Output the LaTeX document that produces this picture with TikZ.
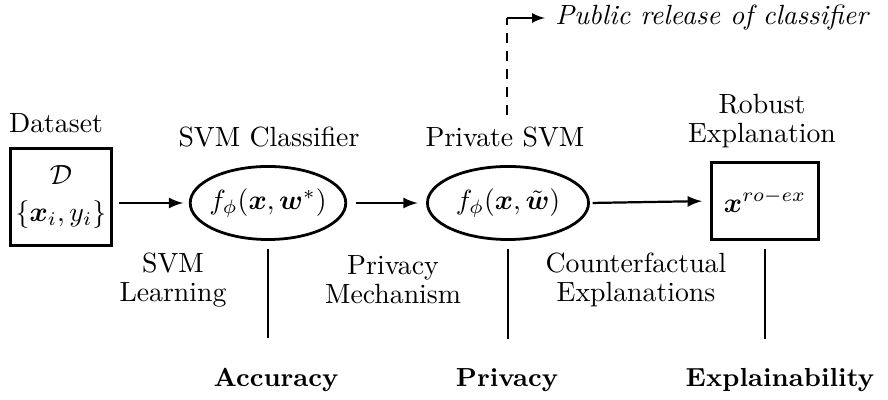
\documentclass[tikz,border=0pt]{standalone}
\usepackage{amsmath}
\usepackage{amssymb}
\usepackage{tikz}
\usetikzlibrary{positioning,arrows,calc,shapes.geometric}
\tikzset{every picture/.style={>=latex,thick}}
\tikzset{databox/.style={draw,line width=1.1pt,inner sep=0pt}}
\tikzset{model/.style={draw,ellipse,line width=1pt,inner xsep=-3pt,inner ysep=0pt,minimum width=56pt,minimum height=26.3pt}}
\tikzset{lbl/.style={align=center,font=\fontsize{10}{10.4}\selectfont}}
\tikzset{goal/.style={font=\fontsize{9.4}{11}\selectfont\bfseries}}
\tikzset{link/.style={semithick}}

\begin{document}
\begin{tikzpicture}[x=0.36pt,y=-0.36pt]
      \useasboundingbox (0,0) rectangle (888,400);
      % pipeline
      \node [databox,minimum width=36.4pt,minimum height=35pt,align=center] (data) at (61,197)
        {$\mathcal{D}$\\[1pt]$\{\boldsymbol{x}_i,y_i\}$};
      \node [model] (svm) at (268,203) {$f_\phi(\boldsymbol{x},\boldsymbol{w}^*)$};
      \node [model,minimum width=58pt] (priv) at (508,203) {$f_\phi(\boldsymbol{x},\tilde{\boldsymbol{w}})$};
      \node [databox,minimum width=38.2pt,minimum height=27.4pt] (rob) at (765,201) {$\boldsymbol{x}^{ro-ex}$};
      % titles
      \node [lbl] (datat) at (56,123) {Dataset};
      \node [lbl] (svmt) at (269,137) {SVM Classifier};
      \node [lbl] (privt) at (505,137) {Private SVM};
      \node [lbl] (robt) at (762,121) {Robust\\Explanation};
      % steps
      \node [lbl] (learn) at (173,280) {SVM\\Learning};
      \node [lbl] (mech) at (393,280) {Privacy\\Mechanism};
      \node [lbl] (cfe) at (636,280) {Counterfactual\\Explanations};
      % goals
      \node [goal] (acc) at (276,380) {Accuracy};
      \node [goal] (prv) at (507,380) {Privacy};
      \node [goal] (expl) at (780,380) {Explainability};
      \node [anchor=west,font=\itshape] (pub) at (545,18) {Public release of classifier};
      \coordinate (up) at (507,115);
      \coordinate (turn) at (up |- pub.west);
      \draw[->,shorten <=2pt,shorten >=2pt] (data.east |- svm.west) -- (svm.west);
      \draw[->,shorten <=3pt,shorten >=3pt] (svm) -- (priv);
      \draw[->,shorten <=1pt,shorten >=3pt] (priv.east) -- (rob.west);
      \draw[semithick,dash pattern=on 3.6pt off 2.9pt] (up) -- (turn);
      \draw[->,semithick] (turn) -- (pub.west);
      \draw[link,shorten <=3pt,shorten >=7pt] (svm.south) -- (svm.south |- acc.north);
      \draw[link,shorten <=3pt,shorten >=7pt] (priv.south) -- (priv.south |- prv.north);
      \draw[link,shorten <=3pt,shorten >=7pt] (rob.south) -- (rob.south |- expl.north);
    \end{tikzpicture}
\end{document}
